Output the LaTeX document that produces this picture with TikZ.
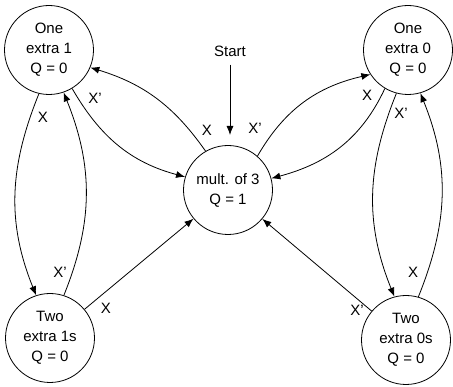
\documentclass[tikz,border=0pt]{standalone}
\usepackage{fontspec}
\setmainfont{Liberation Sans}
\usetikzlibrary{arrows.meta}
\begin{document}
\begin{tikzpicture}[x=1pt,y=1pt,
  state/.style={circle,draw,line width=0.8pt,minimum size=89pt,inner sep=0pt,
    align=center,font=\fontsize{15}{20}\selectfont},
  lbl/.style={inner sep=0pt,font=\fontsize{15}{17}\selectfont},
  trans/.style={line width=0.8pt,-{Latex[length=9pt,width=7pt]}}]
\useasboundingbox (0,0) rectangle (453,-387);
% states of the divisibility-by-3 machine
\node[state] (tl)   at (49,-50)   {One\\extra 1\\Q = 0};
\node[state] (tr)   at (408,-50)  {One\\extra 0\\Q = 0};
\node[state] (bl)   at (50,-338)  {Two\\extra 1s\\Q = 0};
\node[state] (br)   at (406,-340) {Two\\extra 0s\\Q = 0};
\node[state] (mult) at (228,-190) {mult. of 3\\Q = 1};
% entry arrow
\node[lbl] (start) at (230,-51) {Start};
\coordinate (startend) at (230,-135);
\draw[trans,shorten <=8pt] (start) -- (startend);
% transitions
\draw[trans] (mult.120) to[out=125,in=-17] (tl.-23);
\draw[trans] (tl.-59) to[out=-60,in=165] (mult.163);
\draw[trans] (tl.-103) to[out=-112,in=112] (bl.108);
\draw[trans] (bl.72) to[out=68,in=-68] (tl.-71);
\draw[trans] (bl) -- (mult);
\draw[trans] (mult.49) to[out=60,in=193] (tr.213);
\draw[trans] (tr.-121) to[out=-115,in=15] (mult.15);
\draw[trans] (tr.-105) to[out=-112,in=112] (br.105);
\draw[trans] (br.74) to[out=68,in=-68] (tr.-74);
\draw[trans] (br) -- (mult);
% transition labels
\node[lbl] (l1)  at (207,-130) {X};
\node[lbl] (l2)  at (95,-98)   {X’};
\node[lbl] (l3)  at (43,-117)  {X};
\node[lbl] (l4)  at (60,-272)  {X’};
\node[lbl] (l5)  at (106,-308) {X};
\node[lbl] (l6)  at (255,-128) {X’};
\node[lbl] (l7)  at (367,-95)  {X};
\node[lbl] (l8)  at (401,-113) {X’};
\node[lbl] (l9)  at (413,-272) {X};
\node[lbl] (l10) at (357,-310) {X’};
\end{tikzpicture}
\end{document}
